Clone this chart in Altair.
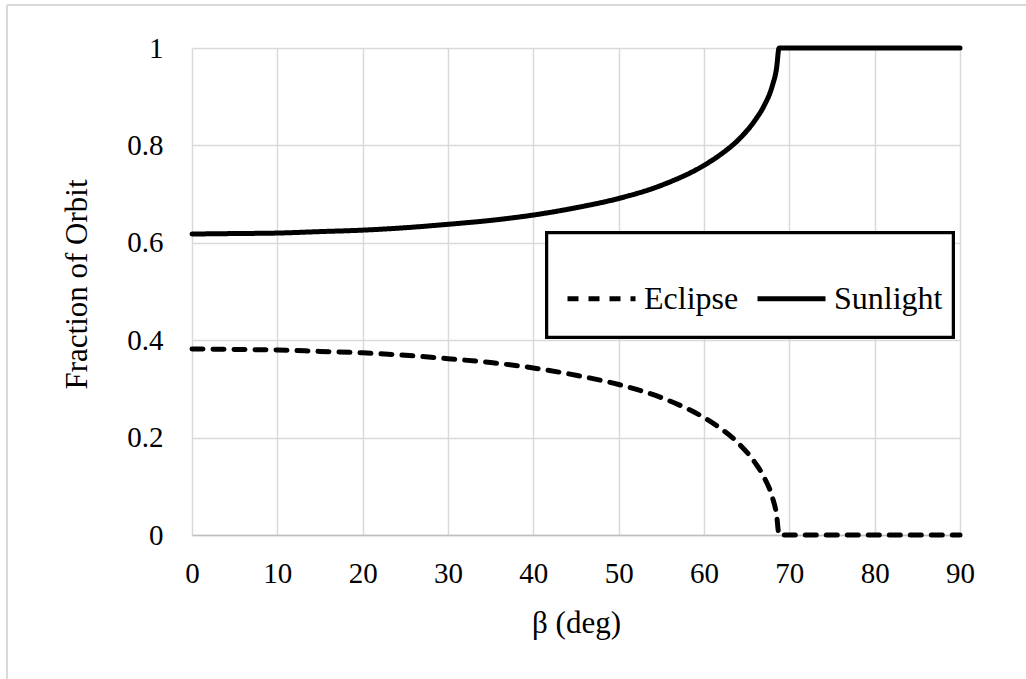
import altair as alt
import pandas as pd

# Sun angle beta (deg) and the orbit fraction spent in eclipse / sunlight
beta = [0, 5, 10, 15, 20, 25, 30, 35, 40, 45, 50, 55, 60, 62, 64, 66, 67, 68,
        68.5, 68.8, 70, 75, 80, 85, 90]
eclipse = [0.382, 0.381, 0.380, 0.377, 0.374, 0.369, 0.362, 0.354, 0.343, 0.328,
           0.309, 0.282, 0.241, 0.218, 0.189, 0.148, 0.120, 0.078,
           0.042, 0.0, 0.0, 0.0, 0.0, 0.0, 0.0]
sunlight = [0.618, 0.619, 0.620, 0.623, 0.626, 0.631, 0.638, 0.646, 0.657, 0.672,
            0.691, 0.718, 0.759, 0.782, 0.811, 0.852, 0.880, 0.922,
            0.958, 1.0, 1.0, 1.0, 1.0, 1.0, 1.0]
series = ["Eclipse", "Sunlight"]

df = pd.concat([
    pd.DataFrame({"beta": beta, "frac": eclipse, "series": "Eclipse"}),
    pd.DataFrame({"beta": beta, "frac": sunlight, "series": "Sunlight"}),
])

FONT = "Liberation Serif"
GRID = "#d9d9d9"

lines = alt.Chart(df).mark_line(
    color="black", strokeWidth=5, strokeCap="round", interpolate="monotone"
).encode(
    x=alt.X("beta:Q", scale=alt.Scale(domain=[0, 90], nice=False),
            axis=alt.Axis(title="β (deg)", values=list(range(0, 91, 10)), ticks=False,
                          labelFlush=False, labelPadding=38, labelBaseline="middle",
                          labelFontSize=29, titleFontSize=31, titleY=88,
                          titleBaseline="middle", domainColor="#bfbfbf", domainWidth=1.5)),
    y=alt.Y("frac:Q", scale=alt.Scale(domain=[0, 1], nice=False),
            axis=alt.Axis(title="Fraction of Orbit", values=[0, 0.2, 0.4, 0.6, 0.8, 1.0],
                          format="~g", ticks=False, domain=False, labelPadding=29,
                          labelFontSize=29, titleFontSize=31, titleAngle=270,
                          titleX=-115, titleY=236, titleAlign="center",
                          titleBaseline="middle")),
    strokeDash=alt.StrokeDash(
        "series:N",
        scale=alt.Scale(domain=series, range=[[11, 10], [1, 0]]),
        legend=alt.Legend(
            title=None, orient="none", legendX=357, legendY=198, direction="horizontal",
            symbolType="stroke", symbolSize=4624, symbolStrokeWidth=5,
            symbolStrokeColor="black", labelFontSize=32, labelFont=FONT,
            labelColor="black", labelOffset=6, columnPadding=8, padding=16,
        ),
    ),
)

# white legend box with a black outline
legend_box = alt.Chart(df).mark_rect(fill="white", stroke="black", strokeWidth=2.5).encode(
    x=alt.value(355), x2=alt.value(761), y=alt.value(185), y2=alt.value(289))

# light outer frame of the figure
frame_left = alt.Chart(df).mark_rule(color="#d9d9d9", strokeWidth=1.5).encode(
    x=alt.value(-185), y=alt.value(-43), y2=alt.value(640))
frame_top = alt.Chart(df).mark_rule(color="#d9d9d9", strokeWidth=1.5).encode(
    x=alt.value(-185), x2=alt.value(840), y=alt.value(-43))

chart = alt.layer(frame_left, frame_top, legend_box, lines).properties(
    width=768, height=487,
    padding={"left": 192, "top": 48, "right": 66, "bottom": 144},
    autosize="none",
    background="white",
).configure_axis(
    labelFont=FONT, titleFont=FONT, labelColor="black", titleColor="black",
    titleFontWeight="normal", gridColor=GRID, gridWidth=1.5,
).configure_view(stroke=None)

chart.save("out.html", embed_options={"renderer": "svg", "actions": False})
